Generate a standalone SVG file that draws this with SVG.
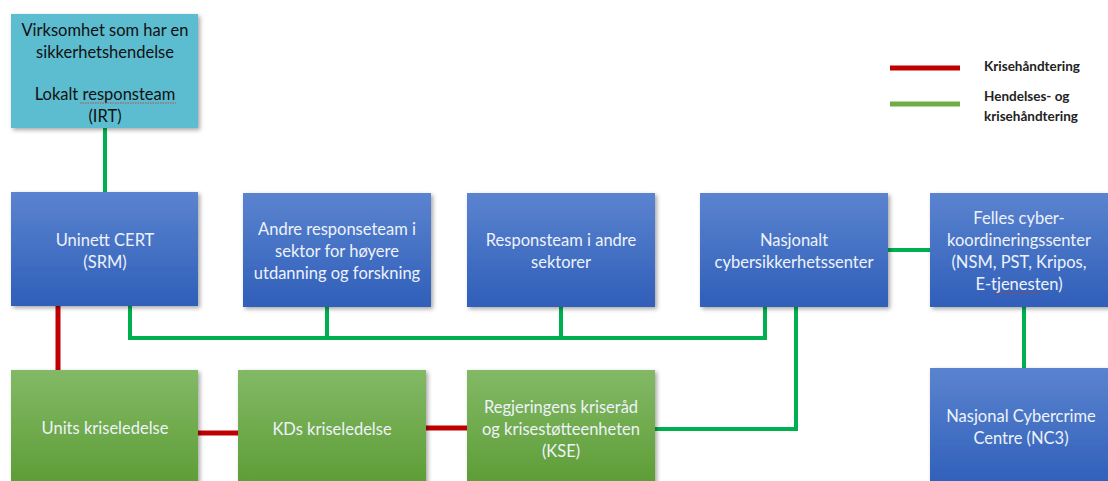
<svg xmlns="http://www.w3.org/2000/svg" width="1108" height="481" viewBox="0 0 1108 481">
<defs>
<linearGradient id="gBlue" x1="0" y1="0" x2="0" y2="1"><stop offset="0" stop-color="#5b83cf"/><stop offset="1" stop-color="#2f5fb9"/></linearGradient>
<linearGradient id="gGreen" x1="0" y1="0" x2="0" y2="1"><stop offset="0" stop-color="#83b966"/><stop offset="1" stop-color="#5c9c34"/></linearGradient>
<filter id="sh" x="-10%" y="-10%" width="125%" height="125%"><feDropShadow dx="2" dy="2" stdDeviation="2" flood-color="#000" flood-opacity="0.35"/></filter>
<style>
.t{font-family:Lato,"Open Sans","Liberation Sans",sans-serif;font-size:16.5px;text-anchor:middle}
.w{fill:#eef2fa}
.k{fill:#111}
.lg{font-family:Lato,"Liberation Sans",sans-serif;font-size:13.5px;font-weight:bold;fill:#222}
.g{stroke:#00b050;stroke-width:4;fill:none}
.r{stroke:#c00000;stroke-width:5;fill:none}
.sq{stroke:#d03030;stroke-width:0.8;fill:none;stroke-dasharray:1.5 1}
</style>
</defs>
<g id="connectors">
<line class="g" x1="105" y1="128" x2="105" y2="192"/>
<polyline class="g" points="130,306 130,338 765,338 765,307"/>
<line class="g" x1="327" y1="307" x2="327" y2="338"/>
<line class="g" x1="561" y1="307" x2="561" y2="338"/>
<line class="g" x1="888" y1="250" x2="930" y2="250"/>
<polyline class="g" points="796,307 796,429 655,429"/>
<line class="g" x1="1024" y1="307" x2="1024" y2="368"/>
<line class="r" x1="58" y1="306" x2="58" y2="370"/>
<line class="r" x1="198" y1="433" x2="238" y2="433"/>
<line class="r" x1="426" y1="428" x2="467" y2="428"/>
</g>
<g id="legend">
<line x1="890" y1="68" x2="960" y2="68" stroke="#c00000" stroke-width="5"/>
<line x1="890" y1="104" x2="960" y2="104" stroke="#70ad47" stroke-width="5"/>
<text class="lg" x="984" y="71">Krisehåndtering</text>
<text class="lg" x="984" y="101">Hendelses- og</text>
<text class="lg" x="984" y="121">krisehåndtering</text>
</g>
<g id="n-virksomhet">
<rect x="11" y="14" width="187" height="114" fill="#5bbdd0" filter="url(#sh)"/>
<text class="t k" x="105" y="36">Virksomhet som har en</text>
<text class="t k" x="105" y="58">sikkerhetshendelse</text>
<text class="t k" x="105" y="100">Lokalt responsteam</text>
<text class="t k" x="105" y="122">(IRT)</text>
<line class="sq" x1="80" y1="103" x2="176" y2="103"/>
</g>
<g id="n-uninett">
<rect x="11" y="192" width="187" height="114" fill="url(#gBlue)" filter="url(#sh)"/>
<text class="t w" x="105" y="246">Uninett CERT</text>
<text class="t w" x="105" y="268">(SRM)</text>
</g>
<g id="n-andre">
<rect x="243" y="193" width="188" height="114" fill="url(#gBlue)" filter="url(#sh)"/>
<text class="t w" x="337" y="235">Andre responseteam i</text>
<text class="t w" x="337" y="257">sektor for høyere</text>
<text class="t w" x="337" y="279">utdanning og forskning</text>
</g>
<g id="n-responsteam">
<rect x="467" y="193" width="188" height="114" fill="url(#gBlue)" filter="url(#sh)"/>
<text class="t w" x="561" y="246">Responsteam i andre</text>
<text class="t w" x="561" y="268">sektorer</text>
</g>
<g id="n-nasjonalt">
<rect x="700" y="193" width="188" height="114" fill="url(#gBlue)" filter="url(#sh)"/>
<text class="t w" x="794" y="246">Nasjonalt</text>
<text class="t w" x="794" y="268">cybersikkerhetssenter</text>
</g>
<g id="n-felles">
<rect x="930" y="193" width="182" height="114" fill="url(#gBlue)" filter="url(#sh)"/>
<text class="t w" x="1019" y="224">Felles cyber-</text>
<text class="t w" x="1019" y="246">koordineringssenter</text>
<text class="t w" x="1019" y="268">(NSM, PST, Kripos,</text>
<text class="t w" x="1019" y="290">E-tjenesten)</text>
<line class="sq" x1="993" y1="293" x2="1041" y2="293"/>
</g>
<g id="n-nc3">
<rect x="930" y="368" width="182" height="120" fill="url(#gBlue)" filter="url(#sh)"/>
<text class="t w" x="1021" y="422">Nasjonal Cybercrime</text>
<text class="t w" x="1021" y="444">Centre (NC3)</text>
</g>
<g id="n-units">
<rect x="11" y="370" width="187" height="118" fill="url(#gGreen)" filter="url(#sh)"/>
<text class="t w" x="105" y="434">Units kriseledelse</text>
</g>
<g id="n-kds">
<rect x="238" y="370" width="188" height="118" fill="url(#gGreen)" filter="url(#sh)"/>
<text class="t w" x="332" y="435">KDs kriseledelse</text>
</g>
<g id="n-regjeringens">
<rect x="467" y="370" width="188" height="118" fill="url(#gGreen)" filter="url(#sh)"/>
<text class="t w" x="561" y="413">Regjeringens kriseråd</text>
<text class="t w" x="561" y="435">og krisestøtteenheten</text>
<text class="t w" x="561" y="457">(KSE)</text>
</g>
</svg>
